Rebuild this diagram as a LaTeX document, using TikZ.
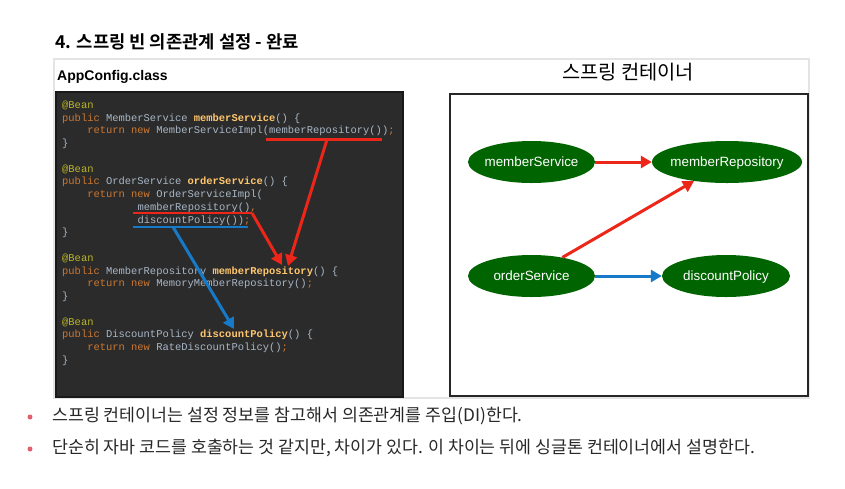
\documentclass[tikz,border=0pt]{standalone}
\usepackage{fontspec}
\setmainfont{Noto Sans CJK KR}
\newfontfamily\krfont{Noto Sans CJK KR}
\newfontfamily\krbold{Noto Sans CJK KR Bold}
\newfontfamily\latsans{Liberation Sans}
\setmonofont{Liberation Mono}
\usetikzlibrary{arrows.meta,shapes.geometric}

\definecolor{codebg}{HTML}{2B2B2B}
\definecolor{canno}{HTML}{BBB529}
\definecolor{ckw}{HTML}{CC7832}
\definecolor{cfn}{HTML}{FFC66D}
\definecolor{ctxt}{HTML}{A9B7C6}
\definecolor{beangreen}{RGB}{0,100,0}
\definecolor{depred}{RGB}{236,38,24}
\definecolor{depblue}{RGB}{22,122,200}
\definecolor{bulletpink}{RGB}{226,96,110}
\definecolor{bodytext}{RGB}{40,40,40}
\definecolor{framegray}{RGB}{228,228,228}

\newcommand{\An}[1]{\textcolor{canno}{#1}}
\newcommand{\Kw}[1]{\textcolor{ckw}{#1}}
\newcommand{\Fn}[1]{\textcolor{cfn}{\bfseries #1}}

\begin{document}
\begin{tikzpicture}[x=1pt,y=-1pt,
  codeline/.style={anchor=mid west,inner sep=0pt,font=\ttfamily\fontsize{10.45}{12}\selectfont,text=ctxt},
  bean/.style={ellipse,fill=beangreen,text=white,inner ysep=0pt,inner xsep=-20pt,text height=9pt,text depth=0pt,font=\latsans\fontsize{13.4}{15}\selectfont,minimum height=42pt},
  deparrow/.style={line width=3pt,-{Triangle[length=11pt,width=12pt]}},
  underl/.style={line width=2.2pt},
  bulletdot/.style={circle,fill=bulletpink,inner sep=0pt,minimum size=5pt},
  bullettext/.style={anchor=west,inner sep=0pt,text=bodytext,font=\krfont\fontsize{17.3}{20}\selectfont}
]
\useasboundingbox (0,0) rectangle (845,488);
\fill[white] (0,0) rectangle (845,488);

% heading
\node[anchor=west,inner sep=0pt,font=\krbold\fontsize{17.7}{21}\selectfont] (title) at (55,42) {4. 스프링 빈 의존관계 설정 - 완료};

% light outer frame
\draw[framegray,line width=1.2pt] (54,59) rectangle (809,398);

% configuration class panel
\node[anchor=west,inner sep=0pt,font=\latsans\bfseries\fontsize{14}{16}\selectfont] (cfglabel) at (57,77) {AppConfig.class};
\draw[fill=codebg,draw=black!90,line width=1.6pt] (56,92) rectangle (403,397);

\node[codeline] (c0)  at (62,105.5) {\An{@Bean}};
\node[codeline] (c1)  at (62,118.3) {\Kw{public} MemberService \Fn{memberService}() \{};
\node[codeline] (c2)  at (87.1,131.0) {\Kw{return new} MemberServiceImpl(memberRepository())\Kw{;}};
\node[codeline] (c3)  at (62,143.8) {\}};
\node[codeline] (c5)  at (62,169.3) {\An{@Bean}};
\node[codeline] (c6)  at (62,182.0) {\Kw{public} OrderService \Fn{orderService}() \{};
\node[codeline] (c7)  at (87.1,194.8) {\Kw{return new} OrderServiceImpl(};
\node[codeline] (c8)  at (137.4,207.5) {memberRepository()\Kw{,}};
\node[codeline] (c9)  at (137.4,220.3) {discountPolicy())\Kw{;}};
\node[codeline] (c10) at (62,233.0) {\}};
\node[codeline] (c12) at (62,258.5) {\An{@Bean}};
\node[codeline] (c13) at (62,271.3) {\Kw{public} MemberRepository \Fn{memberRepository}() \{};
\node[codeline] (c14) at (87.1,284.0) {\Kw{return new} MemoryMemberRepository()\Kw{;}};
\node[codeline] (c15) at (62,296.8) {\}};
\node[codeline] (c17) at (62,322.3) {\An{@Bean}};
\node[codeline] (c18) at (62,335.0) {\Kw{public} DiscountPolicy \Fn{discountPolicy}() \{};
\node[codeline] (c19) at (87.1,347.8) {\Kw{return new} RateDiscountPolicy()\Kw{;}};
\node[codeline] (c20) at (62,360.5) {\}};

% call sites and the bean definitions they resolve to
\coordinate (ul1a) at (266,139.5);
\coordinate (ul1b) at (382,139.5);
\coordinate (ul2a) at (133,213);
\coordinate (ul2b) at (252,213);
\coordinate (ul3a) at (133,227);
\coordinate (ul3b) at (248,227);
\coordinate (src1) at (327,139.5);
\coordinate (src3) at (173,227);
\coordinate (repoDefA) at (288,266);
\coordinate (repoDefB) at (282,265);
\coordinate (policyDef) at (234,329);

\draw[depred,underl] (ul1a) -- (ul1b);
\draw[depred,underl] (ul2a) -- (ul2b);
\draw[depblue,underl] (ul3a) -- (ul3b);
\draw[depred,deparrow] (src1) -- (repoDefA);
\draw[depred,deparrow] (ul2b) -- (repoDefB);
\draw[depblue,deparrow] (src3) -- (policyDef);

% container panel
\node[font=\krfont\fontsize{19.8}{23}\selectfont,inner sep=0pt] (ctitle) at (628,72) {스프링 컨테이너};
\draw[draw=black!85,line width=1.8pt] (450,94) rectangle (808,396);

\node[bean,minimum width=127pt] (ms) at (531.5,162) {memberService};
\node[bean,minimum width=150pt] (mr) at (727,162) {memberRepository};
\node[bean,minimum width=127pt] (os) at (531.5,276) {orderService};
\node[bean,minimum width=128pt] (dp) at (726,276) {discountPolicy};

\draw[depred,deparrow] (ms.east) -- (mr.west);
\draw[depred,deparrow] (os.31) -- (mr.210);
\draw[depblue,deparrow] (os.east) -- (dp.west);

% notes
\node[bulletdot] (b1) at (30,417) {};
\node[bullettext] (t1) at (52,416) {스프링 컨테이너는 설정 정보를 참고해서 의존관계를 주입(DI)한다.};
\node[bulletdot] (b2) at (30,449) {};
\node[bullettext] (t2) at (52,448) {단순히 자바 코드를 호출하는 것 같지만, 차이가 있다. 이 차이는 뒤에 싱글톤 컨테이너에서 설명한다.};
\end{tikzpicture}
\end{document}
